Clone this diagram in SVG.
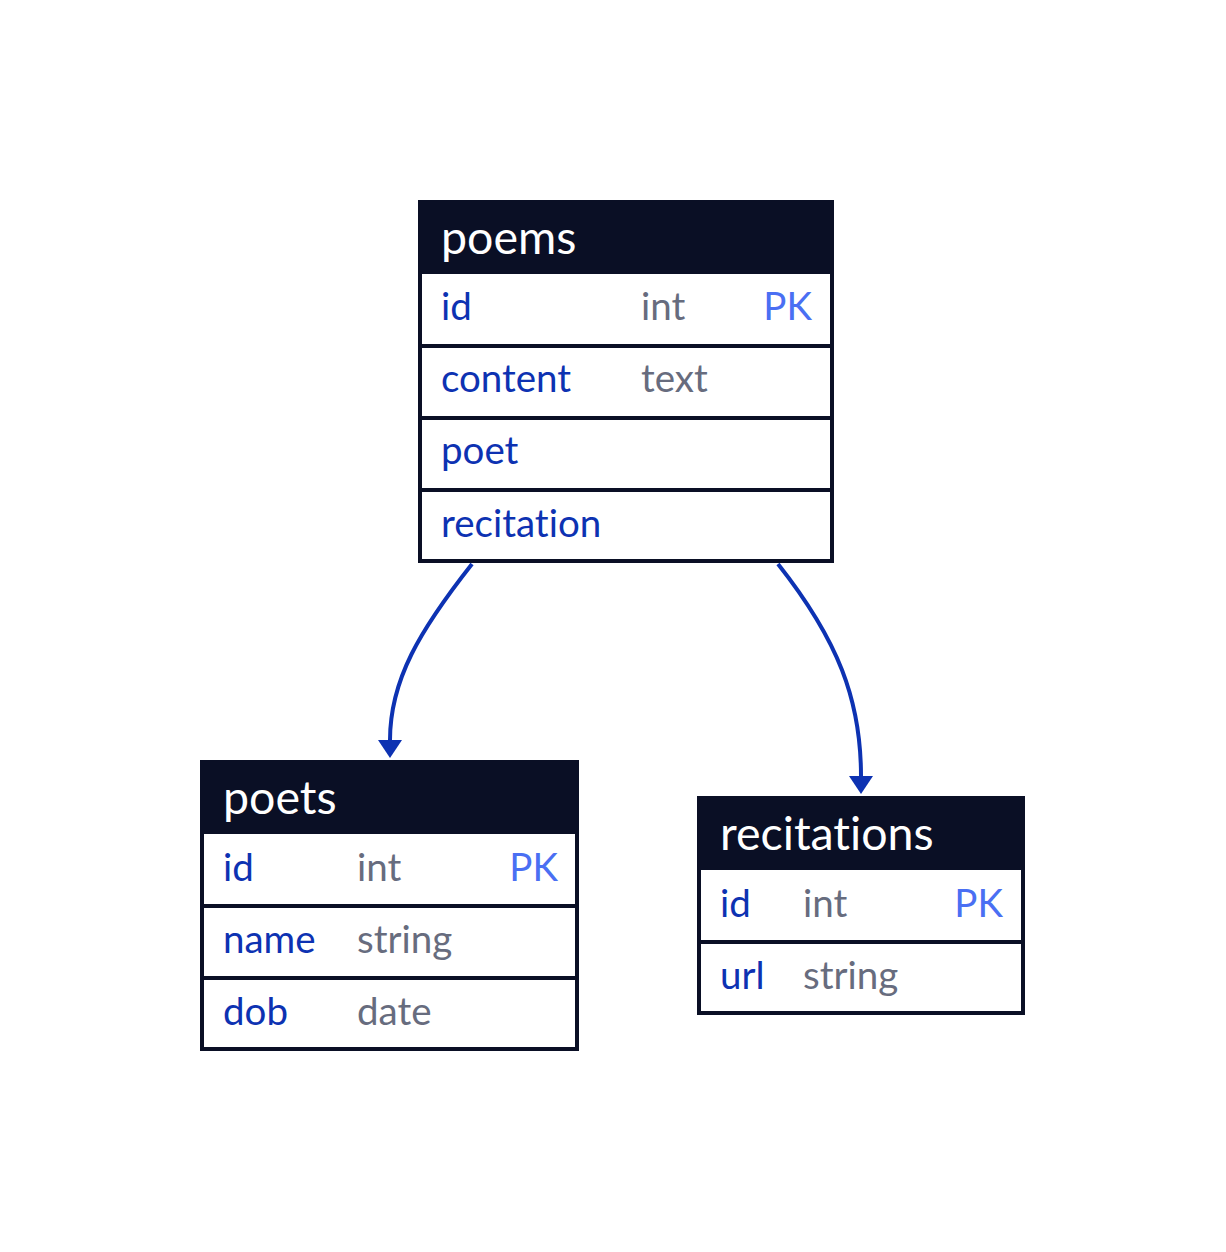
<svg xmlns="http://www.w3.org/2000/svg" width="1226" height="1252" viewBox="0 0 1226 1252">
<defs>
<style>
.box{fill:#FFFFFF;stroke:#0A0F25;stroke-width:4}
.hdr{fill:#0A0F25}
.sep{stroke:#0A0F25;stroke-width:4}
.t{font-family:Lato,"Open Sans","Noto Sans",sans-serif;font-variant-ligatures:none}
.h{font-size:46.5px;fill:#FFFFFF}
.n{font-size:38.5px;fill:#0D32B2}
.ty{font-size:38.5px;fill:#676C7E}
.pk{font-size:38.5px;fill:#4A6FF3;text-anchor:end}
.edge{fill:none;stroke:#0D32B2;stroke-width:4}
</style>
</defs>
<rect width="1226" height="1252" fill="#FFFFFF"/>
<g id="poems">
<rect class="box" x="420" y="202" width="412" height="359"/>
<rect class="hdr" x="418" y="200" width="416" height="74"/>
<line class="sep" x1="420" y1="346" x2="832" y2="346"/>
<line class="sep" x1="420" y1="418" x2="832" y2="418"/>
<line class="sep" x1="420" y1="490" x2="832" y2="490"/>
<text class="t h" x="441" y="254">poems</text>
<text class="t n" x="441" y="320">id</text>
<text class="t ty" x="641" y="320">int</text>
<text class="t pk" x="812" y="320">PK</text>
<text class="t n" x="441" y="392">content</text>
<text class="t ty" x="641" y="392">text</text>
<text class="t n" x="441" y="464">poet</text>
<text class="t n" x="441" y="537">recitation</text>
</g>
<g id="poets">
<rect class="box" x="202" y="762" width="375" height="287"/>
<rect class="hdr" x="200" y="760" width="379" height="74"/>
<line class="sep" x1="202" y1="906" x2="577" y2="906"/>
<line class="sep" x1="202" y1="978" x2="577" y2="978"/>
<text class="t h" x="223" y="814">poets</text>
<text class="t n" x="223" y="881">id</text>
<text class="t ty" x="357" y="881">int</text>
<text class="t pk" x="558" y="881">PK</text>
<text class="t n" x="223" y="953">name</text>
<text class="t ty" x="357" y="953">string</text>
<text class="t n" x="223" y="1025">dob</text>
<text class="t ty" x="357" y="1025">date</text>
</g>
<g id="recitations">
<rect class="box" x="699" y="798" width="324" height="215"/>
<rect class="hdr" x="697" y="796" width="328" height="74"/>
<line class="sep" x1="699" y1="942" x2="1023" y2="942"/>
<text class="t h" x="720" y="850">recitations</text>
<text class="t n" x="720" y="917">id</text>
<text class="t ty" x="803" y="917">int</text>
<text class="t pk" x="1003" y="917">PK</text>
<text class="t n" x="720" y="989">url</text>
<text class="t ty" x="803" y="989">string</text>
</g>
<g id="connectors">
<path class="edge" d="M472,564 C420,630 390,680 390,740"/>
<polygon points="378,740 402,740 390,758" fill="#0D32B2"/>
<path class="edge" d="M778,564 C838,640 861,700 861,776"/>
<polygon points="849,776 873,776 861,794" fill="#0D32B2"/>
</g>
</svg>
